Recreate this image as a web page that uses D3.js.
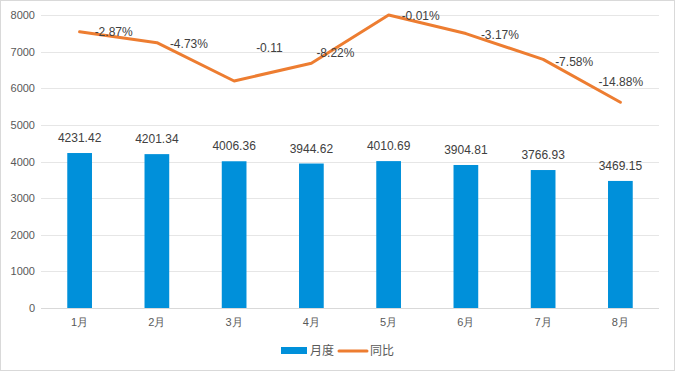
<!DOCTYPE html>
<html><head><meta charset="utf-8">
<script src="https://cdn.jsdelivr.net/npm/d3@7"></script>
<style>
body{margin:0;background:#fff;}
svg{display:block;font-family:"Liberation Sans","Noto Sans CJK SC",sans-serif;}
</style></head><body>
<svg id="c" width="675" height="371"></svg>
<script>
const categories = ["1月","2月","3月","4月","5月","6月","7月","8月"];
const monthly = [4231.42, 4201.34, 4006.36, 3944.62, 4010.69, 3904.81, 3766.93, 3469.15];
const yoy = [-2.87, -4.73, -11.26, -8.22, -0.01, -3.17, -7.58, -14.88];
const yoyLabels = ["-2.87%","-4.73%","-0.11","-8.22%","-0.01%","-3.17%","-7.58%","-14.88%"];
const yTicks = [0,1000,2000,3000,4000,5000,6000,7000,8000];
const seriesNames = ["月度","同比"];
// label placement tweaks (style, px)
const labelDx = [15,13,22,5,13,15,12,-22];
const labelDy = [0,1,-33,-10,1,1,2,-20];

const svg = d3.select("#c");
const W = 675, H = 371;
const m = {left:41, right:16, top:15, bottom:63};
svg.append("rect").attr("x",0.5).attr("y",0.5).attr("width",W-1).attr("height",H-1)
  .attr("fill","#fff").attr("stroke","#D9D9D9");

const x = d3.scaleBand().domain(categories).range([m.left, W-m.right]).paddingInner(0.68).paddingOuter(0.34);
const xc = d => x(d) + x.bandwidth()/2;
const y = d3.scaleLinear().domain([0,8000]).range([H-m.bottom, m.top]);
const y2 = d3.scaleLinear().domain([-50,0]).range([H-m.bottom, m.top]);

// gridlines
svg.append("g").selectAll("line").data(yTicks).join("line")
  .attr("x1",m.left).attr("x2",W-m.right)
  .attr("y1",d=>Math.round(y(d))+0.5).attr("y2",d=>Math.round(y(d))+0.5)
  .attr("stroke",d=>d===0?"#D9D9D9":"#E6E6E6").attr("stroke-width",1);

// y axis
const ya = svg.append("g").attr("transform",`translate(${m.left},0)`)
  .call(d3.axisLeft(y).tickValues(yTicks).tickSize(0).tickPadding(6).tickFormat(d3.format("d")));
ya.select(".domain").remove();
ya.selectAll("text").attr("fill","#595959").style("font-size","11px");

// x axis
const xa = svg.append("g").attr("transform",`translate(0,${H-m.bottom})`)
  .call(d3.axisBottom(x).tickSize(0).tickPadding(10));
xa.select(".domain").remove();
xa.selectAll("text").attr("fill","#595959").style("font-size","11px");

// bars
svg.append("g").selectAll("rect").data(monthly).join("rect")
  .attr("x",(d,i)=>x(categories[i])).attr("width",x.bandwidth())
  .attr("y",d=>y(d)).attr("height",d=>y(0)-y(d)).attr("fill","#0090DA");

svg.append("g").selectAll("text").data(monthly).join("text")
  .attr("x",(d,i)=>xc(categories[i])).attr("y",d=>y(d)-11)
  .attr("text-anchor","middle").attr("fill","#404040").style("font-size","12px")
  .text(d=>d3.format(".2f")(d));

// line
const line = d3.line().x((d,i)=>xc(categories[i])).y(d=>y2(d));
svg.append("path").datum(yoy).attr("d",line).attr("fill","none")
  .attr("stroke","#ED7D31").attr("stroke-width",3).attr("stroke-linejoin","round").attr("stroke-linecap","round");

svg.append("g").selectAll("text").data(yoy).join("text")
  .attr("x",(d,i)=>xc(categories[i])+labelDx[i]).attr("y",(d,i)=>y2(d)+labelDy[i])
  .attr("dy","0.35em").attr("fill","#404040").style("font-size","12px")
  .text((d,i)=>yoyLabels[i]);

// legend
const lg = svg.append("g");
lg.append("rect").attr("x",281).attr("y",347).attr("width",26).attr("height",7).attr("fill","#0090DA");
lg.append("text").attr("x",310).attr("y",351).attr("dy","0.35em").attr("fill","#595959").style("font-size","12px").text(seriesNames[0]);
lg.append("line").attr("x1",339).attr("x2",367).attr("y1",351).attr("y2",351).attr("stroke","#ED7D31").attr("stroke-width",3).attr("stroke-linecap","round");
lg.append("text").attr("x",370).attr("y",351).attr("dy","0.35em").attr("fill","#595959").style("font-size","12px").text(seriesNames[1]);
</script>
</body></html>
